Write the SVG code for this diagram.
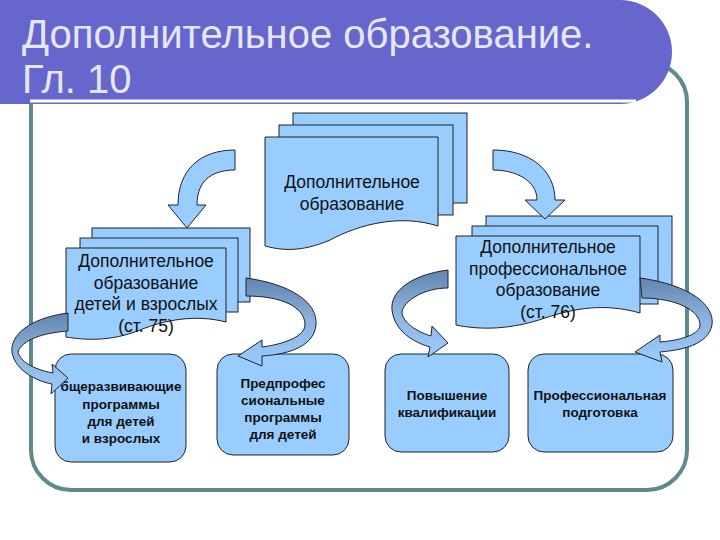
<svg xmlns="http://www.w3.org/2000/svg" width="720" height="540" viewBox="0 0 720 540">
<style>
.pg{fill:#99ccff;stroke:#222;stroke-width:1}
.bx{fill:#99ccff;stroke:#222;stroke-width:1}
.t{font-family:"Liberation Sans",Arial,sans-serif;font-size:17.5px;fill:#111;text-anchor:middle}
.b{font-family:"Liberation Sans",Arial,sans-serif;font-size:13.5px;font-weight:bold;fill:#111;text-anchor:middle}
.ar{fill:#99ccff;stroke:#223;stroke-width:1}
.rb{fill:url(#g);stroke:#223;stroke-width:1}
</style>
<defs>
<linearGradient id="g" x1="0" y1="0" x2="0" y2="1"><stop offset="0" stop-color="#5f85b0"/><stop offset="0.5" stop-color="#8fb4dd"/><stop offset="1" stop-color="#99ccff"/></linearGradient>
</defs>
<rect width="720" height="540" fill="#fff"/>
<rect x="31" y="62" width="656" height="428" rx="40" fill="none" stroke="#5f8a8b" stroke-width="4"/>
<path d="M0,0 H620 A52,52 0 0 1 620,104 H0 Z" fill="#6666cc"/>
<line x1="30" y1="101" x2="636" y2="101" stroke="#fff" stroke-width="3"/>
<text x="22" y="48" font-family="Liberation Sans,Arial,sans-serif" font-size="40" fill="#e6e6ff">Дополнительное образование.</text>
<text x="22" y="93" font-family="Liberation Sans,Arial,sans-serif" font-size="40" fill="#e6e6ff">Гл. 10</text>

<g id="top-doc">
<rect class="pg" x="293" y="113" width="174" height="90"/>
<rect class="pg" x="279" y="125" width="174" height="90"/>
<path class="pg" d="M265,137 H438 V226 C400,214 360,224 330,240 C300,253 280,250 265,246 Z"/>
<text class="t" x="352" y="188">Дополнительное</text>
<text class="t" x="352" y="210">образование</text>
</g>
<g id="left-doc">
<rect class="pg" x="92" y="228" width="158" height="74"/>
<rect class="pg" x="80" y="238" width="158" height="74"/>
<path class="pg" d="M66,248 H226 V322 C195,314 165,320 140,330 C110,342 85,340 66,337 Z"/>
<text class="t" x="146" y="267">Дополнительное</text>
<text class="t" x="146" y="289">образование</text>
<text class="t" x="146" y="310">детей и взрослых</text>
<text class="t" x="146" y="332">(ст. 75)</text>
</g>
<g id="right-doc">
<rect class="pg" x="486" y="216" width="186" height="80"/>
<rect class="pg" x="472" y="226" width="186" height="78"/>
<path class="pg" d="M456,236 H640 V313 C605,303 575,308 545,318 C510,330 480,330 456,325 Z"/>
<text class="t" x="548" y="253">Дополнительное</text>
<text class="t" x="548" y="275">профессиональное</text>
<text class="t" x="548" y="296">образование</text>
<text class="t" x="548" y="318">(ст. 76)</text>
</g>
<g id="box1"><rect class="bx" x="55" y="354" width="131" height="108" rx="16"/>
<text class="b" x="121" y="391">бщеразвивающие</text><text class="b" x="121" y="409">программы</text><text class="b" x="121" y="426">для детей</text><text class="b" x="121" y="443">и взрослых</text></g>
<g id="box2"><rect class="bx" x="217" y="354" width="132" height="101" rx="16"/>
<text class="b" x="283" y="388">Предпрофес</text><text class="b" x="283" y="405">сиональные</text><text class="b" x="283" y="422">программы</text><text class="b" x="283" y="439">для детей</text></g>
<g id="box3"><rect class="bx" x="385" y="354" width="124" height="98" rx="16"/>
<text class="b" x="447" y="400">Повышение</text><text class="b" x="447" y="417">квалификации</text></g>
<g id="box4"><rect class="bx" x="528" y="354" width="145" height="98" rx="16"/>
<text class="b" x="600" y="400">Профессиональная</text><text class="b" x="600" y="417">подготовка</text></g>

<g id="connectors">
<path class="ar" d="M235,150 L235,170 C215,170 197,178 197,205 L206,205 L187,228 L168,205 L178,205 C178,170 200,150 235,150 Z"/>
<path class="ar" d="M493,150 L493,170 C515,170 537,180 537,200 L525,200 L545,219 L565,200 L555,200 C555,170 530,150 493,150 Z"/>
<path class="rb" d="M68,313 C30,318 10,335 12,352 C15,372 40,382 52,384 L51,394 L68,378 L52,364 L53,373 C32,369 20,361 18,352 C22,340 42,333 68,331 Z"/>
<path class="rb" d="M246,278 C290,284 318,302 316,325 C314,345 292,354 262,356 L262,366 L238,356 L262,340 L262,347 C285,344 305,336 305,325 C305,307 282,296 246,296 Z"/>
<path class="rb" d="M448,270 C410,275 390,292 392,310 C395,335 420,344 430,347 L428,357 L448,343 L432,326 L431,336 C412,330 402,320 402,312 C404,300 425,288 448,288 Z"/>
<path class="rb" d="M640,278 C690,285 715,305 712,325 C708,345 682,350 660,352 L662,362 L635,352 L660,335 L660,342 C685,340 700,333 700,325 C700,310 675,298 642,298 Z"/>
</g>
</svg>
